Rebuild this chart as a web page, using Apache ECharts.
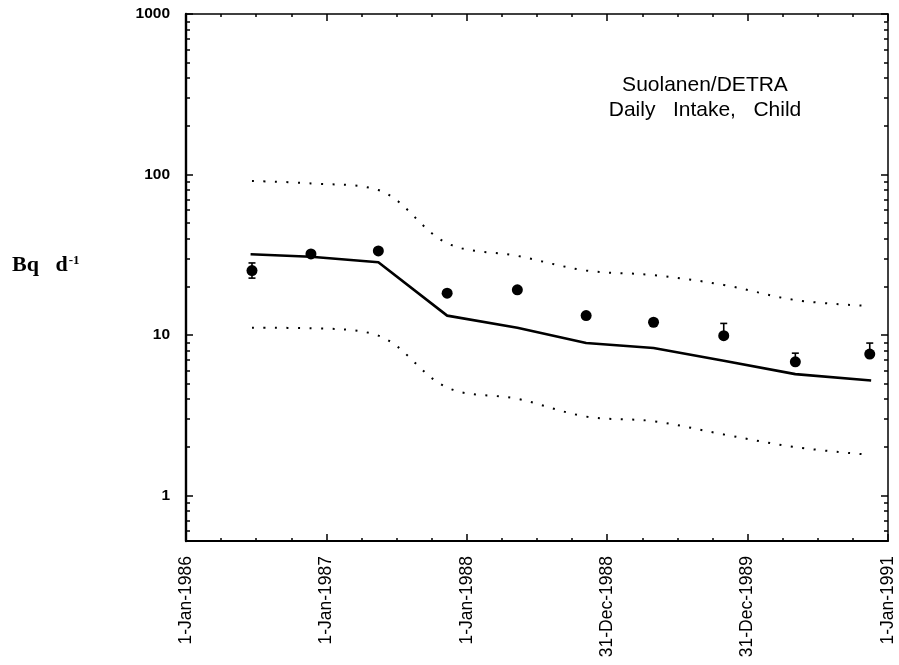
<!DOCTYPE html>
<html>
<head>
<meta charset="utf-8">
<script src="https://cdn.jsdelivr.net/npm/echarts@6/dist/echarts.min.js"></script>
<style>
  html, body { margin: 0; padding: 0; background: #fff; }
  #chart { width: 899px; height: 665px; }
</style>
</head>
<body>
<div id="chart"></div>
<script>
// Tick labels of the time axis (decimal years at each major tick)
const xTickYears = [1986, 1987, 1988, 1989, 1990, 1991];
const xTickLabels = ['1-Jan-1986', '1-Jan-1987', '1-Jan-1988', '31-Dec-1988', '31-Dec-1989', '1-Jan-1991'];

// Log axis: labelled decades and minor ticks
const yMajorTicks = [1, 10, 100, 1000];
const yMinorTicks = [0.6, 0.7, 0.8, 0.9,
  2, 3, 4, 5, 6, 7, 8, 9,
  20, 30, 40, 50, 60, 70, 80, 90,
  200, 300, 400, 500, 600, 700, 800, 900];

// Measured daily intake (Bq/d) with error-bar limits
const obsYears = [1986.47, 1986.89, 1987.37, 1987.86, 1988.36, 1988.85, 1989.33, 1989.83, 1990.34, 1990.87];
const obsValues = [25.2, 32.0, 33.4, 18.2, 19.1, 13.2, 12.0, 9.9, 6.8, 7.6];
const obsHigh = [28.1, 32.0, 33.4, 18.2, 19.1, 13.2, 12.0, 11.8, 7.7, 8.9];
const obsLow = [22.6, 32.0, 33.4, 18.2, 19.1, 13.2, 12.0, 9.9, 6.8, 7.6];

// DETRA prediction: central estimate and upper/lower confidence bounds
const modelYears = [1986.46, 1986.89, 1987.37, 1987.86, 1988.36, 1988.85, 1989.33, 1989.83, 1990.34, 1990.88];
const modelMid = [31.8, 30.7, 28.4, 13.2, 11.1, 8.9, 8.3, 6.9, 5.7, 5.2];
const boundYears = [1986.47, 1986.89, 1987.37, 1987.86, 1988.36, 1988.85, 1989.33, 1989.83, 1990.34, 1990.84];
const modelUpper = [91, 88, 80, 37.3, 31.1, 25.2, 23.6, 20.5, 16.5, 15.2];
const modelLower = [11.1, 11.0, 9.9, 4.7, 4.0, 3.1, 2.9, 2.4, 2.0, 1.8];

const zip = (xs, ys) => xs.map((x, i) => [x, ys[i]]);

const chart = echarts.init(document.getElementById('chart'), null, { renderer: 'canvas' });

const INK = '#000';
const FONT = '"Liberation Sans", Arial, sans-serif';
const SERIF = '"Liberation Serif", "Times New Roman", serif';

function xAxisDef(position, showLabels, lineWidth) {
  return {
    type: 'value',
    position: position,
    min: 1986,
    max: 1991,
    interval: 1,
    axisLine: { show: true, onZero: false, lineStyle: { color: INK, width: lineWidth } },
    axisTick: { show: true, inside: true, length: 7, lineStyle: { color: INK, width: 1.5 } },
    minorTick: { show: true, splitNumber: 4, length: 3, lineStyle: { color: INK, width: 1.5 } },
    splitLine: { show: false },
    axisLabel: {
      show: showLabels,
      rotate: 90,
      margin: 15,
      color: INK,
      fontFamily: FONT,
      fontSize: 17.5,
      formatter: v => {
        const i = xTickYears.indexOf(Math.round(v));
        return i >= 0 ? xTickLabels[i] : '';
      }
    }
  };
}

function yAxisDef(position, major, showLine, lineWidth) {
  return {
    type: 'log',
    logBase: 10,
    position: position,
    min: 0.52,
    max: 1000,
    axisLine: { show: showLine, onZero: false, lineStyle: { color: INK, width: lineWidth } },
    axisTick: {
      show: true,
      inside: true,
      length: major ? 7 : 4,
      customValues: major ? yMajorTicks : yMinorTicks,
      lineStyle: { color: INK, width: 1.5 }
    },
    splitLine: { show: false },
    minorTick: { show: false },
    axisLabel: {
      show: major && position === 'left',
      customValues: yMajorTicks,
      margin: 16,
      color: INK,
      fontFamily: FONT,
      fontWeight: 'bold',
      fontSize: 15.5,
      formatter: v => String(v)
    }
  };
}

const option = {
  backgroundColor: '#fff',
  animation: false,
  grid: { left: 186, right: 11, top: 14, bottom: 124, containLabel: false },
  xAxis: [
    xAxisDef('bottom', true, 2),
    xAxisDef('top', false, 1.5)
  ],
  yAxis: [
    yAxisDef('left', true, true, 2.4),
    yAxisDef('left', false, false, 2.4),
    yAxisDef('right', true, true, 1.5),
    yAxisDef('right', false, false, 1.5)
  ],
  graphic: [
    {
      type: 'text',
      left: 12,
      top: 254,
      style: {
        text: '{b|Bq   d}{s|-1}',
        rich: {
          b: { fontFamily: SERIF, fontWeight: 'bold', fontSize: 22, fill: INK },
          s: { fontFamily: SERIF, fontWeight: 'bold', fontSize: 13, fill: INK, verticalAlign: 'top', padding: [0, 0, 10, 1] }
        }
      }
    },
    {
      type: 'text',
      x: 705,
      y: 73,
      style: {
        text: 'Suolanen/DETRA\nDaily   Intake,   Child',
        textAlign: 'center',
        fontFamily: FONT,
        fontSize: 21,
        lineHeight: 25,
        fill: INK
      }
    }
  ],
  series: [
    {
      name: 'Upper bound',
      type: 'line',
      data: zip(boundYears, modelUpper),
      smooth: 0.35,
      symbol: 'none',
      lineStyle: { color: INK, width: 2, type: [2, 9.5] },
      z: 2
    },
    {
      name: 'Lower bound',
      type: 'line',
      data: zip(boundYears, modelLower),
      smooth: 0.35,
      symbol: 'none',
      lineStyle: { color: INK, width: 2, type: [2, 9.5] },
      z: 2
    },
    {
      name: 'Prediction',
      type: 'line',
      data: zip(modelYears, modelMid),
      symbol: 'none',
      lineStyle: { color: INK, width: 2.6 },
      z: 3
    },
    {
      name: 'Error bars',
      type: 'custom',
      data: obsYears.map((x, i) => [x, obsLow[i], obsHigh[i]]),
      renderItem: (params, api) => {
        const x = api.value(0);
        const lo = api.coord([x, api.value(1)]);
        const hi = api.coord([x, api.value(2)]);
        const cap = 3.5;
        const style = { stroke: INK, lineWidth: 1.6 };
        const children = [];
        if (Math.abs(hi[1] - lo[1]) > 0.5) {
          children.push({ type: 'line', shape: { x1: lo[0], y1: lo[1], x2: hi[0], y2: hi[1] }, style: style });
        }
        const top = api.value(2) !== obsValues[params.dataIndex];
        const bottom = api.value(1) !== obsValues[params.dataIndex];
        if (top) children.push({ type: 'line', shape: { x1: hi[0] - cap, y1: hi[1], x2: hi[0] + cap, y2: hi[1] }, style: style });
        if (bottom) children.push({ type: 'line', shape: { x1: lo[0] - cap, y1: lo[1], x2: lo[0] + cap, y2: lo[1] }, style: style });
        return { type: 'group', children: children };
      },
      z: 4
    },
    {
      name: 'Observed',
      type: 'scatter',
      data: zip(obsYears, obsValues),
      symbol: 'circle',
      symbolSize: 11,
      itemStyle: { color: INK, opacity: 1 },
      z: 5
    }
  ]
};

chart.setOption(option);
</script>
</body>
</html>
